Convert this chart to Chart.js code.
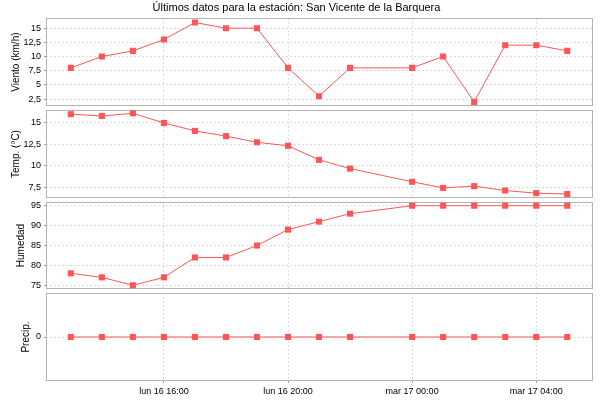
<!DOCTYPE html>
<html>
<head>
<meta charset="utf-8">
<script src="https://cdn.jsdelivr.net/npm/chart.js@4/dist/chart.umd.min.js"></script>
<style>
  body { margin: 0; background: #fff; }
  #wrap { position: relative; width: 600px; height: 400px; }
  #wrap canvas { position: absolute; left: 0; top: 0; }
</style>
</head>
<body>
<div id="wrap">
  <canvas id="wind" width="600" height="400"></canvas>
  <canvas id="temp" width="600" height="400"></canvas>
  <canvas id="hum" width="600" height="400"></canvas>
  <canvas id="rain" width="600" height="400"></canvas>
</div>
<script>
// Readings, one per hour (hours counted from lun 16 00:00; 23:00 is missing)
const chartTitle = 'Últimos datos para la estación: San Vicente de la Barquera';
const hours    = [13, 14, 15, 16, 17, 18, 19, 20, 21, 22, 24, 25, 26, 27, 28, 29];
const wind     = [8, 10, 11, 13, 16, 15, 15, 8, 3, 8, 8, 10, 2, 12, 12, 11];
const temp     = [15.9, 15.7, 16.0, 14.9, 14.0, 13.4, 12.7, 12.3, 10.7, 9.7, 8.2, 7.5, 7.7, 7.2, 6.9, 6.8];
const humidity = [78, 77, 75, 77, 82, 82, 85, 89, 91, 93, 95, 95, 95, 95, 95, 95];
const precip   = [0, 0, 0, 0, 0, 0, 0, 0, 0, 0, 0, 0, 0, 0, 0, 0];

// axis ticks
const hourTicks  = [16, 20, 24, 28];
const hourLabels = ['lun 16 16:00', 'lun 16 20:00', 'mar 17 00:00', 'mar 17 04:00'];
const windTicks  = [2.5, 5, 7.5, 10, 12.5, 15];
const tempTicks  = [7.5, 10, 12.5, 15];
const humTicks   = [75, 80, 85, 90, 95];
const rainTicks  = [0];

const RED = '#ff5555';
const GRID = '#dcdcdc';
const BOX = '#b4b4b4';

Chart.defaults.font.family = '"Liberation Sans", Arial, sans-serif';
Chart.defaults.color = '#000';

// grey frame round each plot area
const framePlugin = {
    id: 'frame',
    beforeDatasetsDraw(chart) {
        const a = chart.chartArea;
        const ctx = chart.ctx;
        ctx.save();
        ctx.strokeStyle = BOX;
        ctx.lineWidth = 1;
        ctx.strokeRect(Math.round(a.left) + 0.5, Math.round(a.top) + 0.5,
            Math.round(a.right - a.left) - 1, Math.round(a.bottom - a.top) - 1);
        ctx.restore();
    }
};

function makePanel(id, axisTitle, values, yMin, yMax, yTicks, titlePad, padding, isBottom, showTitle) {
    return new Chart(document.getElementById(id), {
        type: 'line',
        data: {
            datasets: [{
                data: hours.map((h, i) => ({ x: h, y: values[i] })),
                borderColor: RED,
                backgroundColor: RED,
                borderWidth: 1,
                tension: 0,
                pointStyle: 'rect',
                pointRadius: 4.3,
                pointBorderWidth: 0,
                pointBackgroundColor: RED
            }]
        },
        plugins: [framePlugin],
        options: {
            responsive: false,
            animation: false,
            devicePixelRatio: 1,
            events: [],
            layout: { padding: padding },
            plugins: {
                legend: { display: false },
                tooltip: { enabled: false },
                title: {
                    display: showTitle,
                    text: chartTitle,
                    font: { size: 11, weight: 'normal' },
                    color: '#000',
                    padding: { top: 1, bottom: 4 }
                }
            },
            scales: {
                x: {
                    type: 'linear',
                    min: 12.2,
                    max: 29.83,
                    afterBuildTicks: s => { s.ticks = hourTicks.map(v => ({ value: v })); },
                    afterFit: s => { s.height = isBottom ? 19 : 0; },
                    ticks: {
                        display: isBottom,
                        autoSkip: false,
                        maxRotation: 0,
                        padding: 3,
                        font: { size: 9 },
                        callback: (v, i) => hourLabels[i]
                    },
                    grid: {
                        color: GRID, tickLength: 2, drawTicks: isBottom,
                        tickColor: '#999', tickBorderDash: []
                    },
                    border: { display: false, dash: [2, 2] }
                },
                y: {
                    min: yMin,
                    max: yMax,
                    afterBuildTicks: s => { s.ticks = yTicks.map(v => ({ value: v })); },
                    afterFit: s => { s.width = 46; },
                    ticks: {
                        padding: 3,
                        font: { size: 9 },
                        callback: v => String(v).replace('.', ',')
                    },
                    grid: { color: GRID, tickLength: 2, tickColor: '#999', tickBorderDash: [] },
                    border: { display: false, dash: [2, 2] },
                    title: {
                        display: true,
                        text: axisTitle,
                        font: { size: 10 },
                        padding: { top: titlePad, bottom: 0 }
                    }
                }
            }
        }
    });
}

makePanel('wind', 'Viento (km/h)', wind, 1.27, 16.76, windTicks, 10,
    { top: 0, bottom: 294, left: 0, right: 7 }, false, true);
makePanel('temp', 'Temp. (°C)', temp, 6.35, 16.38, tempTicks, 10,
    { top: 110, bottom: 202, left: 0, right: 7 }, false, false);
makePanel('hum', 'Humedad', humidity, 74.07, 95.93, humTicks, 15.7,
    { top: 202, bottom: 111, left: 0, right: 7 }, false, false);
makePanel('rain', 'Precip.', precip, -1, 1, rainTicks, 20.5,
    { top: 293, bottom: 0, left: 0, right: 7 }, true, false);
</script>
</body>
</html>
